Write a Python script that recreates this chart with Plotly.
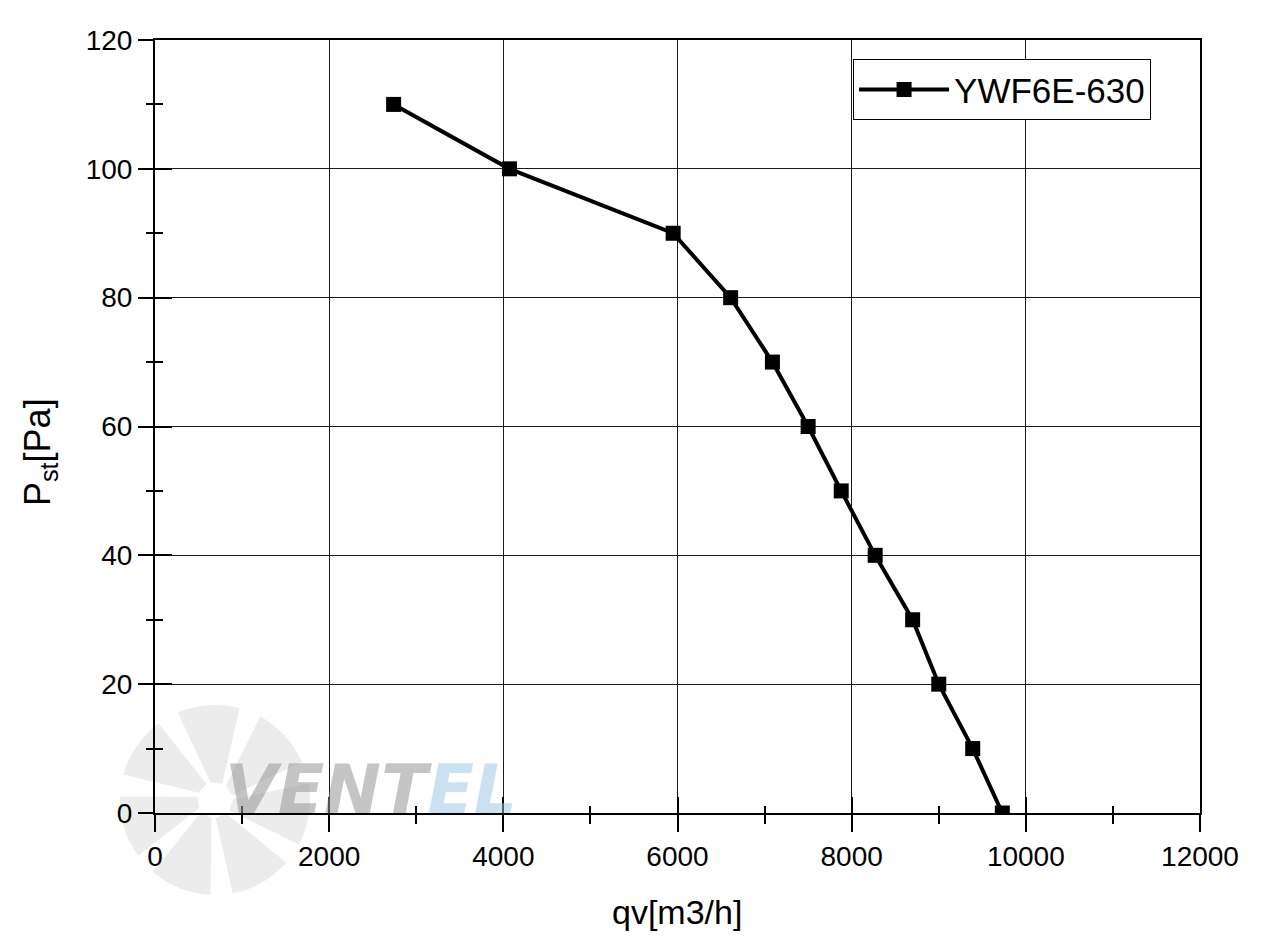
import math
import plotly.graph_objects as go

# Data
flow_m3h = [2740, 4070, 5950, 6610, 7090, 7500, 7880, 8270, 8700, 9000, 9390, 9730]
pressure_pa = [110, 100, 90, 80, 70, 60, 50, 40, 30, 20, 10, 0]
series_name = "YWF6E-630"

x_ticks = [0, 2000, 4000, 6000, 8000, 10000, 12000]
x_tick_labels = ["0", "2000", "4000", "6000", "8000", "10000", "12000"]
y_ticks = [0, 20, 40, 60, 80, 100, 120]
y_tick_labels = ["0", "20", "40", "60", "80", "100", "120"]
x_title = "qv[m3/h]"
y_title = "P<sub>st</sub>[Pa]"

FONT = "Liberation Sans, Arial, sans-serif"
W, H = 1263, 951
ML, MR, MT, MB = 155, 63, 40, 138
PW, PH = W - ML - MR, H - MT - MB


def to_paper(px, py):
    return (px - ML) / PW, (H - MB - py) / PH


fig = go.Figure()
fig.add_trace(go.Scatter(
    x=flow_m3h, y=pressure_pa, name=series_name, mode="lines+markers",
    line=dict(color="black", width=4),
    marker=dict(symbol="square", size=15, color="black"),
))
# helper trace so the overlay axes (inside ticks) are drawn
fig.add_trace(go.Scatter(x=[None], y=[None], xaxis="x2", yaxis="y2",
                         showlegend=False, hoverinfo="skip"))

# Watermark fan blades (decoration)
cx, cy, R, r0 = 215, 800, 95, 18
nblades = 7
for i in range(nblades):
    a0 = math.radians(i * 360 / nblades + 15)
    span = math.radians(38)
    pts = [(cx + r0 * math.cos(a0), cy - r0 * math.sin(a0))]
    for k in range(9):
        a = a0 + 0.15 + span * k / 8
        pts.append((cx + R * math.cos(a), cy - R * math.sin(a)))
    pts.append((cx + r0 * math.cos(a0 + span), cy - r0 * math.sin(a0 + span)))
    path = ""
    for j, (px, py) in enumerate(pts):
        ux, uy = to_paper(px, py)
        path += ("M" if j == 0 else "L") + f"{ux:.4f},{uy:.4f} "
    path += "Z"
    fig.add_shape(type="path", path=path, xref="paper", yref="paper",
                  fillcolor="#ececec", line=dict(width=0), layer="below")

wx, wy = to_paper(371, 789)
fig.add_annotation(
    x=wx, y=wy, xref="paper", yref="paper", showarrow=False,
    xanchor="center", yanchor="middle",
    text="<b><i><span style='color:rgba(150,150,150,0.55)'>VENT</span>"
         "<span style='color:rgba(150,195,230,0.5)'>EL</span></i></b>",
    font=dict(family="DejaVu Sans, sans-serif", size=68),
)

# Axis titles
tx, ty = to_paper(677, 912)
fig.add_annotation(x=tx, y=ty, xref="paper", yref="paper", showarrow=False,
                   xanchor="center", yanchor="middle", text=x_title,
                   font=dict(family=FONT, size=34, color="black"))
tx, ty = to_paper(40, 452)
fig.add_annotation(x=tx, y=ty, xref="paper", yref="paper", showarrow=False,
                   xanchor="center", yanchor="middle", text=y_title, textangle=-90,
                   font=dict(family=FONT, size=36, color="black"))

axis_common = dict(showline=True, linecolor="black", linewidth=2, mirror=True,
                   showgrid=True, gridcolor="#1a1a1a", gridwidth=1,
                   zeroline=False, tickcolor="black", tickwidth=2,
                   tickfont=dict(family=FONT, size=28, color="black"))

fig.update_layout(
    width=W, height=H,
    margin=dict(l=ML, r=MR, t=MT, b=MB),
    paper_bgcolor="white", plot_bgcolor="white",
    font=dict(family=FONT, color="black"),
    xaxis=dict(range=[0, 12000], tickvals=x_ticks, ticktext=x_tick_labels,
               ticks="outside", ticklen=17,
               minor=dict(ticks="outside", ticklen=9, dtick=1000,
                          tickcolor="black", tickwidth=2, showgrid=False),
               **axis_common),
    yaxis=dict(range=[0, 120], tickvals=y_ticks, ticktext=y_tick_labels,
               ticks="outside", ticklen=15,
               minor=dict(ticks="outside", ticklen=7, dtick=10,
                          tickcolor="black", tickwidth=2, showgrid=False),
               **axis_common),
    xaxis2=dict(range=[0, 12000], overlaying="x", anchor="y", side="bottom",
                tickvals=x_ticks, ticks="inside", ticklen=16, tickwidth=2,
                tickcolor="black", showticklabels=False, showgrid=False,
                zeroline=False, showline=False,
                minor=dict(ticks="inside", ticklen=7, dtick=1000,
                           tickcolor="black", tickwidth=2, showgrid=False)),
    yaxis2=dict(range=[0, 120], overlaying="y", anchor="x", side="left",
                tickvals=y_ticks, ticks="inside", ticklen=17, tickwidth=2,
                tickcolor="black", showticklabels=False, showgrid=False,
                zeroline=False, showline=False,
                minor=dict(ticks="inside", ticklen=8, dtick=10,
                           tickcolor="black", tickwidth=2, showgrid=False)),
    legend=dict(x=0.668, y=0.975, xanchor="left", yanchor="top",
                bordercolor="black", borderwidth=1, bgcolor="white",
                itemwidth=90, tracegroupgap=0,
                font=dict(family=FONT, size=35, color="black")),
    showlegend=True,
)

fig.write_html("out.html")
